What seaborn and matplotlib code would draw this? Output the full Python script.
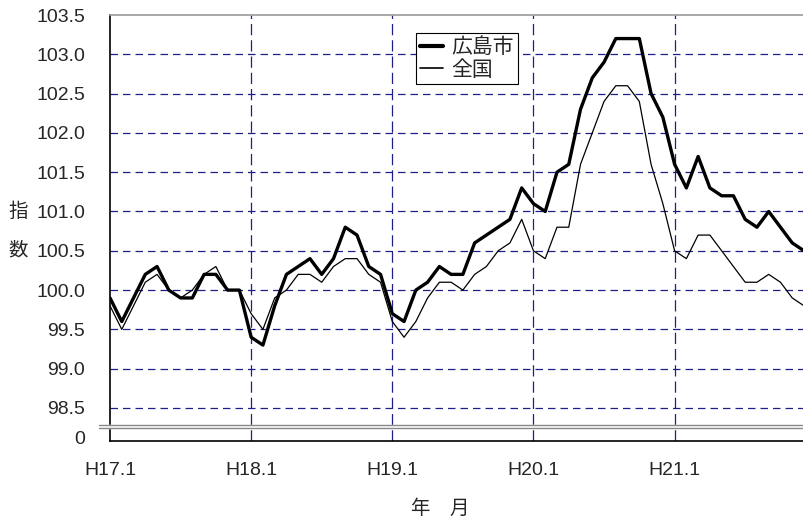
import numpy as np
import pandas as pd
import seaborn as sns
import matplotlib.pyplot as plt

# Monthly index values, H17.1 - H21.12
hiroshima = [99.9, 99.6, 99.9, 100.2, 100.3, 100.0, 99.9, 99.9, 100.2, 100.2, 100.0, 100.0,
             99.4, 99.3, 99.8, 100.2, 100.3, 100.4, 100.2, 100.4, 100.8, 100.7, 100.3, 100.2,
             99.7, 99.6, 100.0, 100.1, 100.3, 100.2, 100.2, 100.6, 100.7, 100.8, 100.9, 101.3,
             101.1, 101.0, 101.5, 101.6, 102.3, 102.7, 102.9, 103.2, 103.2, 103.2, 102.5, 102.2,
             101.6, 101.3, 101.7, 101.3, 101.2, 101.2, 100.9, 100.8, 101.0, 100.8, 100.6, 100.5]
zenkoku = [99.8, 99.5, 99.8, 100.1, 100.2, 100.0, 99.9, 100.0, 100.2, 100.3, 100.0, 100.0,
           99.7, 99.5, 99.9, 100.0, 100.2, 100.2, 100.1, 100.3, 100.4, 100.4, 100.2, 100.1,
           99.6, 99.4, 99.6, 99.9, 100.1, 100.1, 100.0, 100.2, 100.3, 100.5, 100.6, 100.9,
           100.5, 100.4, 100.8, 100.8, 101.6, 102.0, 102.4, 102.6, 102.6, 102.4, 101.6, 101.1,
           100.5, 100.4, 100.7, 100.7, 100.5, 100.3, 100.1, 100.1, 100.2, 100.1, 99.9, 99.8]
year_labels = ["H17.1", "H18.1", "H19.1", "H20.1", "H21.1"]
y_ticks = [98.5, 99.0, 99.5, 100.0, 100.5, 101.0, 101.5, 102.0, 102.5, 103.0, 103.5]

months = np.arange(len(hiroshima))
df = pd.DataFrame({"month": months, "広島市": hiroshima, "全国": zenkoku})

sns.set_style("white")
plt.rcParams["font.family"] = ["Liberation Sans", "Noto Sans CJK JP", "DejaVu Sans"]

fig = plt.figure(figsize=(8.04, 5.24), dpi=100)
ax = fig.add_axes([110 / 804, 1 - 441 / 524, 694 / 804, 426 / 524])

grid_col = "#1f1f88"
for y in y_ticks[:-1]:
    ax.axhline(y, color=grid_col, lw=0.9, dashes=(6, 4), zorder=1)
for x in [12, 24, 36, 48]:
    ax.axvline(x, color=grid_col, lw=0.9, dashes=(9, 4), zorder=1)

sns.lineplot(data=df, x="month", y="広島市", color="black", lw=2.4, label="広島市", ax=ax, zorder=3)
sns.lineplot(data=df, x="month", y="全国", color="black", lw=0.9, label="全国", ax=ax, zorder=3)

ax.set_xlim(0, 59)
ax.set_ylim(98.08, 103.5)
ax.set_yticks(y_ticks + [98.13])
ax.set_yticklabels([f"{v:.1f}" for v in y_ticks] + ["0"])
ax.set_xticks([0, 12, 24, 36, 48])
ax.set_xticklabels(year_labels)
ax.tick_params(axis="y", length=0, pad=18, labelsize=14)
ax.tick_params(axis="x", length=0, pad=15, labelsize=14)
ax.set_xlabel("")
ax.set_ylabel("")

for side in ["left", "bottom"]:
    ax.spines[side].set_color("black")
    ax.spines[side].set_linewidth(1.2)
ax.spines["right"].set_visible(False)
ax.spines["top"].set_color("#999999")
ax.spines["top"].set_linewidth(1.2)

# axis break
tr = ax.get_yaxis_transform()
ax.fill_between([-0.016, 1.0], 98.245, 98.285, transform=tr, color="white", zorder=4, clip_on=False)
ax.plot([-0.016, 1.0], [98.285, 98.285], transform=tr, color="#888888", lw=1, clip_on=False, zorder=5)
ax.plot([-0.016, 1.0], [98.245, 98.245], transform=tr, color="#888888", lw=1, clip_on=False, zorder=5)

leg = ax.legend(loc="upper left", bbox_to_anchor=((416 - 110) / 694, (441 - 33) / 426),
                fontsize=15, handlelength=1.1, handletextpad=0.4, borderpad=0.2,
                labelspacing=0.15, fancybox=False, framealpha=1, borderaxespad=0)
leg.get_frame().set_edgecolor("black")
leg.get_frame().set_linewidth(0.8)
leg.get_lines()[0].set_linewidth(3)
leg.get_lines()[1].set_linewidth(1.2)

fig.text(18 / 804, 1 - 212 / 524, "指", fontsize=14, ha="center", va="center")
fig.text(18 / 804, 1 - 251 / 524, "数", fontsize=14, ha="center", va="center")
fig.text(440 / 804, 1 - 509 / 524, "年　月", fontsize=14, ha="center", va="center")

plt.savefig("out.png", dpi=100)
